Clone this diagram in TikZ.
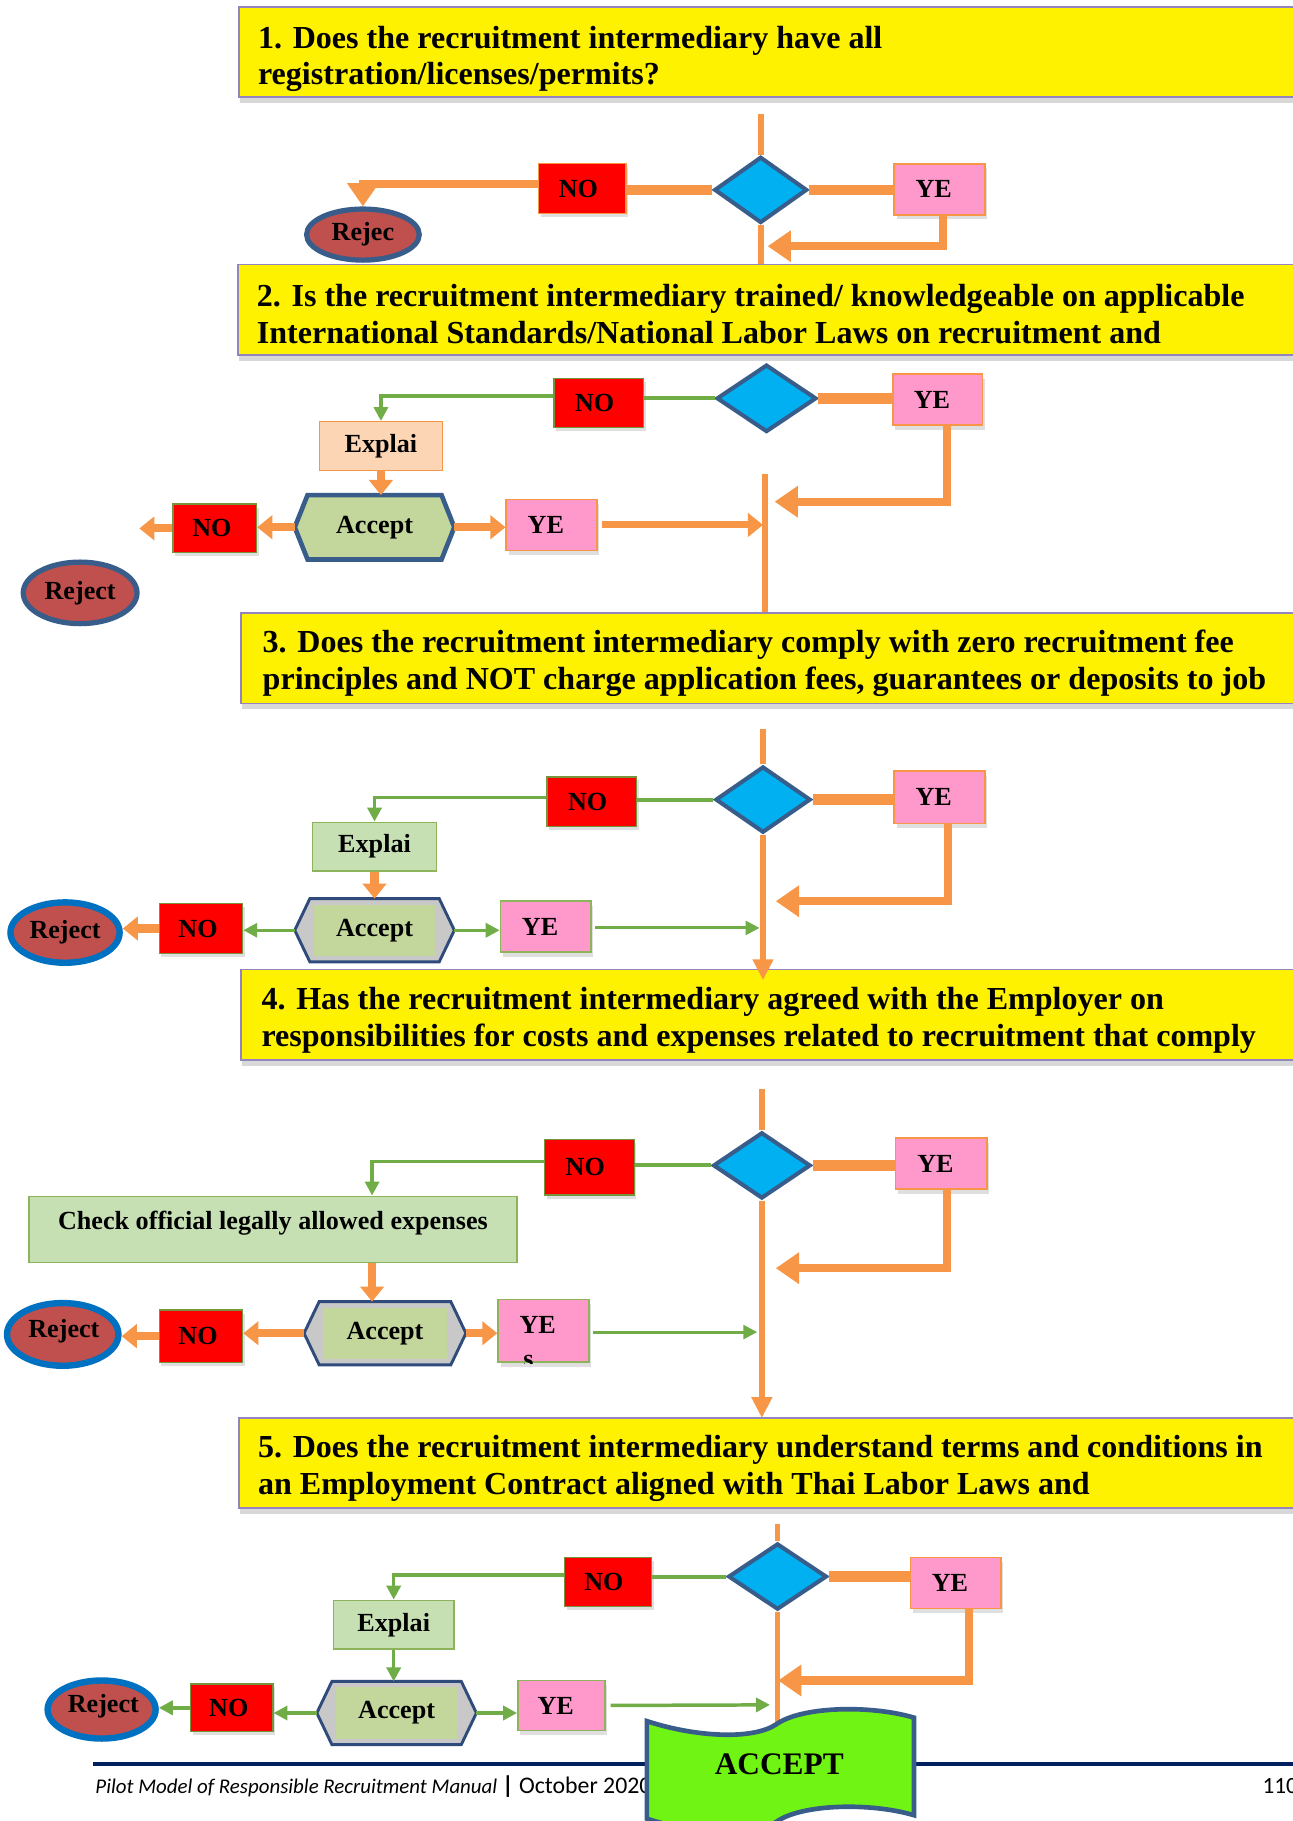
\documentclass[tikz,border=0pt]{standalone}
\usepackage{fontspec}
\setmainfont{Liberation Serif}
\newfontfamily\footfont{Carlito}
\usetikzlibrary{arrows.meta,shapes.geometric,shadows,calc}
\definecolor{orng}{HTML}{F79646}
\definecolor{grn}{HTML}{70AD47}
\definecolor{pnk}{HTML}{FF99CC}
\definecolor{rd}{HTML}{FF0000}
\definecolor{cyn}{HTML}{00B0F0}
\definecolor{dblue}{HTML}{385D8A}
\definecolor{hexblue}{HTML}{2F4B7C}
\definecolor{rblue}{HTML}{0070C0}
\definecolor{rejfill}{HTML}{C0504D}
\definecolor{accg}{HTML}{C3D69B}
\definecolor{lgreen}{HTML}{C6E0B4}
\definecolor{lgborder}{HTML}{8DB45A}
\definecolor{peach}{HTML}{FCD5B4}
\definecolor{hexgrey}{HTML}{C8C8C8}
\definecolor{bigg}{HTML}{70F414}
\definecolor{qborder}{HTML}{9383BF}
\definecolor{navy}{HTML}{002060}
\definecolor{olive}{HTML}{77933C}

\newcommand\drawhex[3]{\draw[#3] (#1.west) -- ($(#1.north west)+(#2,0)$) -- ($(#1.north east)+(-#2,0)$) -- (#1.east) -- ($(#1.south east)+(-#2,0)$) -- ($(#1.south west)+(#2,0)$) -- cycle;}

\tikzset{
  qbox/.style={draw=qborder, line width=1.5pt, fill=yellow, anchor=north west, inner sep=0pt,
    minimum height=78pt, minimum width=930pt,
    drop shadow={shadow xshift=1pt, shadow yshift=-5pt, opacity=0.3}},
  qtext/.style={anchor=west, align=left, inner sep=0pt, font=\fontsize{27.6}{31.5}\selectfont\bfseries},
  lbl/.style={font=\fontsize{22.5}{26}\selectfont\bfseries},
  nobox/.style={lbl, rectangle, fill=rd, draw=olive, line width=1pt, inner sep=0pt,
    drop shadow={shadow xshift=2pt, shadow yshift=-3pt, opacity=0.25}},
  yebox/.style={lbl, rectangle, fill=pnk, draw=orng, line width=1.5pt, inner sep=0pt,
    drop shadow={shadow xshift=2pt, shadow yshift=-4pt, opacity=0.25}},
  gbox/.style={lbl, rectangle, fill=lgreen, draw=lgborder, line width=1.2pt, inner sep=0pt},
  dec/.style={diamond, fill=cyn, draw=dblue, line width=3.5pt, inner sep=0pt},
  rej/.style={lbl, ellipse, fill=rejfill, draw=dblue, line width=4.5pt, inner sep=0pt},
  hexframe/.style={minimum width=137pt, minimum height=54pt, inner sep=0pt},
  hexin/.style={lbl, rectangle, fill=accg, inner sep=0pt, minimum width=104pt, minimum height=44pt},
  otrunk/.style={draw=orng, line width=5pt},
  othick/.style={draw=orng, line width=9pt},
  obig/.style={draw=orng, line width=7pt, -{Triangle[width=26pt,length=20pt]}},
  omid/.style={draw=orng, line width=7pt, -{Triangle[width=20pt,length=13pt]}},
  otip/.style={draw=orng, line width=5pt, -{Triangle[width=17pt,length=18pt]}},
  gline/.style={draw=grn, line width=3.5pt},
  garrow/.style={draw=grn, line width=3pt, -{Triangle[width=12pt,length=12pt]}},
}

\begin{document}
\begin{tikzpicture}[x=1pt,y=-1pt]
\fill[white] (0,0) rectangle (1113,1568);
\useasboundingbox (0,0) rectangle (1113,1568);

% ---------------- Section 1
\node[qbox] (q1) at (205,5) {};
\node[qtext] (q1t) at ($(q1.west)+(17,6)$) {1. Does the recruitment intermediary have all\\registration/licenses/permits?};
\node[qbox] (q2) at (204,227) {};
\node[qtext] (q2t) at ($(q2.west)+(17,3.5)$) {2. Is the recruitment intermediary trained/ knowledgeable on applicable\\International Standards/National Labor Laws on recruitment and};

\node[dec, minimum width=80pt, minimum height=57pt] (d1) at (655,163.5) {};
\node[nobox, draw=orng, minimum width=75pt, minimum height=43pt] (n1) at (501.5,162.5) {NO\kern7pt};
\node[yebox, minimum width=78pt, minimum height=44pt] (y1) at (809,163) {YE\kern10pt};
\node[rej, minimum width=97pt, minimum height=44pt] (r1) at (312.5,202) {Rejec};

\coordinate (t1) at ($(d1.north |- q1.south)+(0,14)$);
\draw[otrunk] (t1) -- (d1.north);
\draw[otrunk] (d1.south) -- (d1.south |- q2.north);
\draw[othick] (d1.west) -- (d1.west -| n1.east);
\draw[othick] (d1.east) -- (d1.east -| y1.west);
\draw[obig] ($(n1.west)+(0,-4)$) -| (r1.north);
\coordinate (j1) at (661,212);
\draw[obig] ($(y1.south)+(3,0)$) |- (j1);

% ---------------- Section 2
\node[dec, minimum width=86pt, minimum height=58pt] (d2) at (660,343) {};
\node[nobox, minimum width=77pt, minimum height=42pt] (n2) at (515.5,347) {NO\kern7pt};
\node[yebox, minimum width=77pt, minimum height=44pt] (y2) at (807.5,344) {YE\kern10pt};
\node[lbl, rectangle, fill=peach, draw=orng, line width=1pt, inner sep=0pt, minimum width=106pt, minimum height=42pt] (e2) at (328,384) {Explai};
\node[hexframe, minimum height=55pt] (a2) at (322.5,454) {};
\drawhex{a2}{11}{fill=accg, draw=dblue, line width=4pt}
\node[lbl] (a2t) at (a2) {Accept};
\node[nobox, minimum width=72pt, minimum height=42pt] (n2b) at (185,455) {NO\kern5pt};
\node[rej, minimum width=98pt, minimum height=53pt] (r2) at (69,510.5) {Reject};
\node[yebox, minimum width=78pt, minimum height=44pt] (y2b) at (475,452) {YE\kern10pt};

\node[qbox] (q3) at (207,527) {};
\node[qtext] (q3t) at ($(q3.west)+(19,4.5)$) {3. Does the recruitment intermediary comply with zero recruitment fee\\principles and NOT charge application fees, guarantees or deposits to job};

\draw[gline] (d2.west) -- (d2.west -| n2.east);
\draw[garrow] ($(n2.west)+(0,-6)$) -| (e2.north);
\draw[othick] (d2.east) -- (d2.east -| y2.west);
\draw[omid] (e2.south) -- (e2.south |- a2.north);
\draw[omid] (a2.west) -- (a2.west -| n2b.east);
\coordinate (x2) at (120,455);
\draw[omid] (n2b.west) -- (x2);
\draw[omid] (a2.east) -- (a2.east -| y2b.west);
\coordinate (j2b) at (657,452);
\draw[omid, line width=6pt] ($(y2b.east)+(4,0)$) -- (j2b);
\coordinate (t2) at (659,408);
\draw[otrunk] (t2) -- (t2 |- q3.north);
\coordinate (j2) at (667,432);
\draw[obig] ($(y2.south)+(8,0)$) |- (j2);

% ---------------- Section 3
\node[dec, minimum width=82pt, minimum height=57pt] (d3) at (657,688.5) {};
\node[nobox, minimum width=77pt, minimum height=43pt] (n3) at (509.5,690.5) {NO\kern7pt};
\node[yebox, minimum width=78pt, minimum height=45pt] (y3) at (809,686.5) {YE\kern10pt};
\node[gbox, minimum width=107pt, minimum height=42pt] (e3) at (322.5,729) {Explai};
\node[hexframe] (a3) at (322.5,801) {};
\drawhex{a3}{13}{fill=hexgrey, draw=hexblue, line width=2.5pt}
\node[hexin] (a3i) at (a3) {Accept};
\node[nobox, minimum width=72pt, minimum height=43pt] (n3b) at (173,799.5) {NO\kern5pt};
\node[rej, draw=rblue, line width=5.5pt, minimum width=94pt, minimum height=52pt] (r3) at (56,803) {Reject};
\node[yebox, draw=lgborder, minimum width=78pt, minimum height=44pt] (y3b) at (470,798) {YE\kern10pt};

\node[qbox] (q4) at (207,834) {};
\node[qtext] (q4t) at ($(q4.west)+(18,5)$) {4. Has the recruitment intermediary agreed with the Employer on\\responsibilities for costs and expenses related to recruitment that comply};

\coordinate (t3) at (657,628);
\draw[otrunk] (t3) -- (d3.north);
\coordinate (k3) at (657,844);
\draw[otip] (d3.south) -- (k3);
\draw[gline] (d3.west) -- (d3.west -| n3.east);
\draw[garrow] ($(n3.west)+(0,-4)$) -| (e3.north);
\draw[othick] (d3.east) -- (d3.east -| y3.west);
\draw[omid] (e3.south) -- (e3.south |- a3.north);
\draw[garrow] (a3.west) -- (a3.west -| n3b.east);
\draw[omid] (n3b.west) -- (n3b.west -| r3.east);
\draw[garrow] (a3.east) -- (a3.east -| y3b.west);
\coordinate (j3b) at (654,799);
\draw[garrow, line width=2.5pt] ($(y3b.east)+(3,1)$) -- (j3b);
\coordinate (j3) at (668,776);
\draw[obig] ($(y3.south)+(7,0)$) |- (j3);

% ---------------- Section 4
\node[dec, minimum width=84pt, minimum height=57pt] (d4) at (656,1003.5) {};
\node[nobox, minimum width=77pt, minimum height=48pt] (n4) at (507.5,1005) {NO\kern7pt};
\node[yebox, minimum width=79pt, minimum height=44pt] (y4) at (810.5,1002) {YE\kern10pt};
\node[gbox, minimum width=420pt, minimum height=57pt] (c4) at (235,1058.5) {};
\node[lbl] (c4t) at (235,1053) {Check official legally allowed expenses};
\node[hexframe, minimum width=139pt] (a4) at (331.5,1148) {};
\drawhex{a4}{13}{fill=hexgrey, draw=hexblue, line width=2.5pt}
\node[hexin, minimum width=106pt] (a4i) at (a4) {Accept};
\node[nobox, minimum width=72pt, minimum height=45pt] (n4b) at (173,1150.5) {NO\kern5pt};
\node[rej, draw=rblue, line width=5.5pt, minimum width=96pt, minimum height=54pt] (r4) at (54,1149) {};
\node[lbl] (r4t) at (55,1146) {Reject};
\node[yebox, draw=lgborder, minimum width=78pt, minimum height=54pt] (y4b) at (468,1146) {};
\begin{scope}
  \clip (y4b.south west) rectangle (y4b.north east);
  \node[lbl] (y4t) at (463,1141) {YE};
  \node[lbl] (y4s) at (455,1172) {s};
\end{scope}

\node[qbox] (q5) at (205,1220) {};
\node[qtext] (q5t) at ($(q5.west)+(17,4.5)$) {5. Does the recruitment intermediary understand terms and conditions in\\an Employment Contract aligned with Thai Labor Laws and};

\coordinate (t4) at (656,938);
\draw[otrunk] (t4) -- (d4.north);
\coordinate (k4) at (656,1221);
\draw[otip] (d4.south) -- (k4);
\draw[gline] (d4.west) -- (d4.west -| n4.east);
\coordinate (c4n) at ($(c4.north west)+(296,0)$);
\coordinate (c4s) at ($(c4.south west)+(296,0)$);
\draw[garrow] ($(n4.west)+(0,-5)$) -| (c4n);
\draw[omid] (c4s) -- (c4s |- a4.north);
\draw[omid] (a4.west) -- (a4.west -| n4b.east);
\draw[omid] (n4b.west) -- (n4b.west -| r4.east);
\draw[omid] (a4.east) -- (a4.east -| y4b.west);
\coordinate (j4b) at (652,1147);
\draw[garrow, line width=2.5pt] ($(y4b.east)+(3,1)$) -- (j4b);
\draw[othick] (d4.east) -- (d4.east -| y4.west);
\coordinate (j4) at (668,1092);
\draw[obig] ($(y4.south)+(5,0)$) |- (j4);

% ---------------- Section 5
\node[dec, minimum width=85pt, minimum height=57pt] (d5) at (669.5,1357.5) {};
\node[nobox, minimum width=75pt, minimum height=42pt] (n5) at (523.5,1362) {NO\kern7pt};
\node[yebox, minimum width=78pt, minimum height=44pt] (y5) at (823,1363) {YE\kern10pt};
\node[gbox, minimum width=104pt, minimum height=42pt] (e5) at (339,1399) {Explai};
\node[hexframe] (a5) at (341.5,1475) {};
\drawhex{a5}{13}{fill=hexgrey, draw=hexblue, line width=2.5pt}
\node[hexin] (a5i) at (a5) {Accept};
\node[nobox, minimum width=71pt, minimum height=41pt] (n5b) at (199.5,1470.5) {NO\kern5pt};
\node[rej, draw=rblue, line width=5.5pt, minimum width=93pt, minimum height=50pt] (r5) at (87.5,1472) {};
\node[lbl] (r5t) at (89,1469) {Reject};
\node[yebox, draw=lgborder, minimum width=75pt, minimum height=43pt] (y5b) at (483.5,1468.5) {YE\kern10pt};

\coordinate (t5) at (669.5,1312);
\draw[otrunk] (t5) -- (d5.north);
\coordinate (k5) at (669.5,1510);
\draw[otrunk] (d5.south) -- (k5);
\draw[gline] (d5.west) -- (d5.west -| n5.east);
\draw[garrow] ($(n5.west)+(0,-6)$) -| (e5.north);
\draw[garrow] (e5.south) -- (e5.south |- a5.north);
\draw[garrow] (a5.west) -- (a5.west -| n5b.east);
\draw[garrow] (n5b.west) -- (n5b.west -| r5.east);
\draw[garrow] (a5.east) -- (a5.east -| y5b.west);
\coordinate (j5b) at (663,1468);
\draw[garrow] ($(y5b.east)+(4,0)$) -- (j5b);
\draw[othick] (d5.east) -- (d5.east -| y5.west);
\coordinate (j5) at (670,1447);
\draw[obig] ($(y5.south)+(11,0)$) |- (j5);

% ---------------- Footer
\coordinate (fl) at (80,1519);
\coordinate (fr) at (1125,1519);
\draw[navy, line width=4pt] (fl) -- (fr);
\node[anchor=base west, inner sep=0pt, font=\footfont\fontsize{18}{20}\selectfont] (ft) at (82,1544)
  {\itshape Pilot Model of Responsible Recruitment Manual \upshape\bfseries\fontsize{21}{22}\selectfont|\mdseries\fontsize{20.5}{22}\selectfont\ October 2020};
\node[anchor=base west, inner sep=0pt, font=\footfont\fontsize{20}{22}\selectfont] (pg) at (1087,1544) {110};

% ---------------- ACCEPT banner
\draw[fill=bigg, draw=dblue, line width=4pt]
  (557,1482) .. controls (600,1496) and (648,1498) .. (668,1485)
  .. controls (690,1469) and (750,1468) .. (787,1479)
  -- (787,1563) .. controls (750,1552) and (690,1553) .. (668,1569)
  .. controls (648,1582) and (600,1580) .. (557,1566) -- cycle;
\node[font=\fontsize{27}{30}\selectfont\bfseries] (acc) at (671,1519) {ACCEPT};
\end{tikzpicture}
\end{document}
